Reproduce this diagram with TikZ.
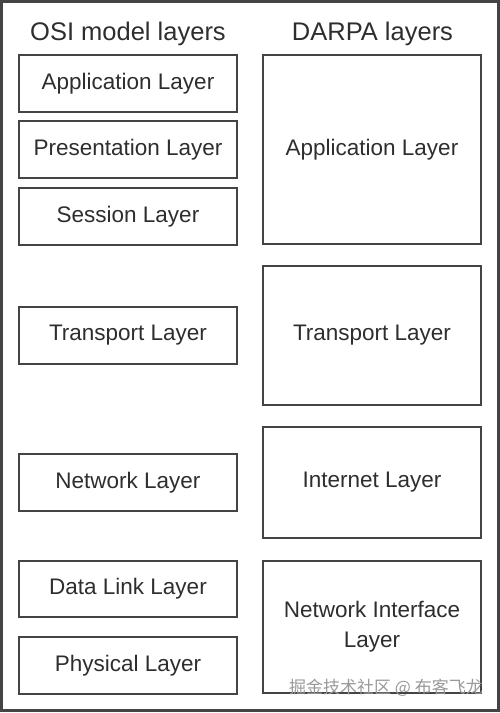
\documentclass[tikz,border=0pt]{standalone}
\usepackage{fontspec}
\setmainfont{Liberation Sans}
\newfontfamily\cjk{Noto Sans CJK SC}
\definecolor{ink}{HTML}{2E2E2E}
\definecolor{frame}{HTML}{444444}
\begin{document}
\begin{tikzpicture}[x=1pt,y=-1pt,
  layerbox/.style={draw=frame, line width=1.5pt, fill=white, text=ink, minimum width=218pt, align=center, inner sep=0pt, font=\fontsize{22.5}{30}\selectfont},
  titletext/.style={text=ink, anchor=base, inner sep=0pt, font=\fontsize{25.5}{30}\selectfont}]
\useasboundingbox (0,0) rectangle (500,713);
\draw[frame, line width=3pt] (1.5,1.5) rectangle (498.5,710.5);
\node[titletext] (osititle) at (128,40) {OSI model layers};
\node[titletext] (darpatitle) at (372.5,40) {DARPA layers};
% OSI
\node[layerbox, minimum height=57pt] (oapp) at (128,83.5) {Application Layer};
\node[layerbox, minimum height=57pt] (opres) at (128,149.5) {Presentation Layer};
\node[layerbox, minimum height=57pt] (osess) at (128,216.5) {Session Layer};
\node[layerbox, minimum height=57pt] (otrans) at (128,335.5) {Transport Layer};
\node[layerbox, minimum height=57pt] (onet) at (128,482.5) {Network Layer};
\node[layerbox, minimum height=56pt] (odata) at (128,589) {Data Link Layer};
\node[layerbox, minimum height=57pt] (ophys) at (128,665.5) {Physical Layer};
% DARPA
\node[layerbox, minimum height=189pt] (dapp) at (372,149.5) {Application Layer};
\node[layerbox, minimum height=139pt] (dtrans) at (372,335.5) {Transport Layer};
\node[layerbox, minimum height=111pt] (dinet) at (372,482.5) {Internet Layer};
\node[layerbox, minimum height=132pt] (dnif) at (372,627) {Network Interface\\Layer};
\node[text=gray!80, anchor=base east, inner sep=0pt, font=\cjk\fontsize{17}{19}\selectfont] (wm) at (483,693) {掘金技术社区 @ 布客飞龙};
\end{tikzpicture}
\end{document}
